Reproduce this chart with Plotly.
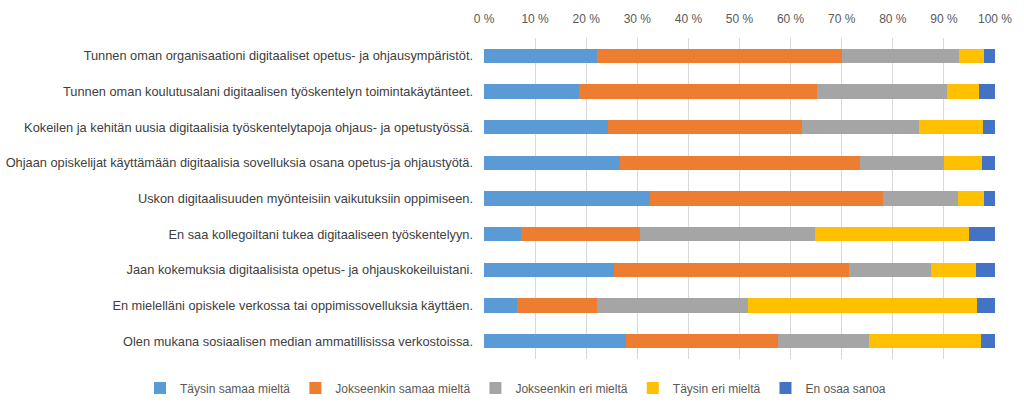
import plotly.graph_objects as go

categories = [
    "Tunnen oman organisaationi digitaaliset opetus- ja ohjausympäristöt.",
    "Tunnen oman koulutusalani digitaalisen työskentelyn toimintakäytänteet.",
    "Kokeilen ja kehitän uusia digitaalisia työskentelytapoja ohjaus- ja opetustyössä.",
    "Ohjaan opiskelijat käyttämään digitaalisia sovelluksia osana opetus-ja ohjaustyötä.",
    "Uskon digitaalisuuden myönteisiin vaikutuksiin oppimiseen.",
    "En saa kollegoiltani tukea digitaaliseen työskentelyyn.",
    "Jaan kokemuksia digitaalisista opetus- ja ohjauskokeiluistani.",
    "En mielelläni opiskele verkossa tai oppimissovelluksia käyttäen.",
    "Olen mukana sosiaalisen median ammatillisissa verkostoissa.",
]

series_names = ["Täysin samaa mieltä", "Jokseenkin samaa mieltä", "Jokseenkin eri mieltä",
                "Täysin eri mieltä", "En osaa sanoa"]

taysin_samaa = [22.2, 18.5, 24.2, 26.6, 32.4, 7.2, 25.4, 6.4, 27.8]
jokseenkin_samaa = [47.8, 46.6, 38.0, 46.9, 45.6, 23.3, 46.1, 15.8, 29.8]
jokseenkin_eri = [23.0, 25.6, 23.0, 16.6, 14.7, 34.3, 15.9, 29.5, 17.8]
taysin_eri = [4.9, 6.1, 12.5, 7.4, 5.2, 30.2, 8.9, 44.8, 21.8]
en_osaa = [2.1, 3.2, 2.3, 2.5, 2.1, 5.0, 3.7, 3.5, 2.8]

tick_vals = [0, 10, 20, 30, 40, 50, 60, 70, 80, 90, 100]
tick_text = ["0 %", "10 %", "20 %", "30 %", "40 %", "50 %", "60 %", "70 %", "80 %", "90 %", "100 %"]

colors = ["#5B9BD5", "#ED7D31", "#A5A5A5", "#FFC000", "#4472C4"]
all_series = [taysin_samaa, jokseenkin_samaa, jokseenkin_eri, taysin_eri, en_osaa]

fig = go.Figure()
for name, vals, col in zip(series_names, all_series, colors):
    fig.add_trace(go.Bar(
        y=categories, x=vals, name=name, orientation="h",
        marker=dict(color=col, line=dict(width=0)),
        width=0.4,
    ))

plot_h = 402 - 38 - 43
plot_w = 1024 - 484 - 29

fig.update_layout(
    barmode="stack",
    width=1024, height=402,
    margin=dict(l=484, r=29, t=38, b=43, autoexpand=False),
    plot_bgcolor="white", paper_bgcolor="white",
    font=dict(family="Liberation Sans", size=12, color="#404040"),
    xaxis=dict(
        range=[0, 100], side="top", tickvals=tick_vals, ticktext=tick_text,
        showgrid=True, gridcolor="#D9D9D9", gridwidth=1, zeroline=False,
        tickfont=dict(family="Liberation Sans", size=12, color="#595959"),
        ticks="", ticklabelstandoff=12, fixedrange=True,
    ),
    yaxis=dict(
        autorange="reversed", showgrid=False, ticks="",
        tickfont=dict(family="Liberation Sans", size=12.8, color="#404040"),
        ticklabelstandoff=10, showline=False,
    ),
    legend=dict(
        orientation="h",
        x=(140 - 484) / plot_w, xanchor="left",
        y=-(388 - 359) / plot_h, yanchor="middle",
        font=dict(family="Liberation Sans", size=12, color="#595959"),
        traceorder="normal", itemwidth=30,
    ),
    bargap=0.6,
)
fig.write_html("out.html")
